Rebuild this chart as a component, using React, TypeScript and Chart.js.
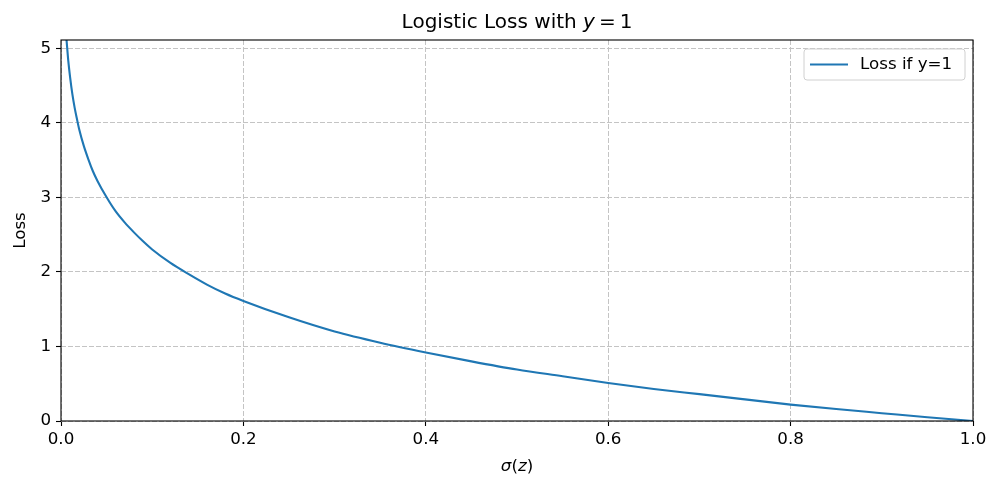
import React, { useEffect, useRef } from "react";
import { Chart, registerables } from "chart.js";

Chart.register(...registerables);

const SIGMA_Z = [0.006, 0.008, 0.01, 0.0125, 0.015, 0.0175, 0.02, 0.025, 0.03, 0.035, 0.04, 0.05, 0.06, 0.07, 0.08, 0.09, 0.1, 0.12, 0.14, 0.16, 0.18, 0.2, 0.25, 0.3, 0.35, 0.4, 0.45, 0.5, 0.55, 0.6, 0.65, 0.7, 0.75, 0.8, 0.85, 0.9, 0.95, 1.0];
const LOSS = [5.12, 4.83, 4.61, 4.38, 4.2, 4.05, 3.91, 3.69, 3.51, 3.35, 3.22, 3.0, 2.81, 2.66, 2.53, 2.41, 2.3, 2.12, 1.97, 1.83, 1.71, 1.61, 1.39, 1.2, 1.05, 0.92, 0.8, 0.69, 0.6, 0.51, 0.43, 0.36, 0.29, 0.22, 0.16, 0.105, 0.05, 0.0];
const X_TICKS = [0, 0.2, 0.4, 0.6, 0.8, 1.0];
const Y_TICKS = [0, 1, 2, 3, 4, 5];
const SERIES_LABEL = "Loss if y=1";
const Y_LABEL = "Loss";

const FONT = "'DejaVu Sans', sans-serif";
const FS = 16.7;

function drawMixed(ctx: CanvasRenderingContext2D, parts: [string, boolean][], cx: number, cy: number, size: number) {
  const fonts = parts.map(([, it]) => `${it ? "italic " : ""}${size}px ${FONT}`);
  let total = 0;
  const widths = parts.map(([t], i) => {
    ctx.font = fonts[i];
    const w = ctx.measureText(t).width;
    total += w;
    return w;
  });
  let x = cx - total / 2;
  ctx.textAlign = "left";
  ctx.textBaseline = "middle";
  parts.forEach(([t], i) => {
    ctx.font = fonts[i];
    ctx.fillText(t, x, cy);
    x += widths[i];
  });
}

const decor = {
  id: "decor",
  afterDraw(chart: any) {
    const ctx: CanvasRenderingContext2D = chart.ctx;
    const a = chart.chartArea;
    ctx.save();
    // frame
    ctx.strokeStyle = "#000";
    ctx.lineWidth = 1.1;
    ctx.strokeRect(a.left, a.top, a.right - a.left, a.bottom - a.top);
    ctx.fillStyle = "#000";
    const cx = (a.left + a.right) / 2;
    // title
    drawMixed(ctx, [["Logistic Loss with ", false], ["y", true], ["\u2009=\u20091", false]], cx, 23, 20);
    // x label
    drawMixed(ctx, [["σ", true], ["(", false], ["z", true], [")", false]], cx, 467, FS);
    // y label
    ctx.save();
    ctx.translate(21, (a.top + a.bottom) / 2);
    ctx.rotate(-Math.PI / 2);
    ctx.font = `${FS}px ${FONT}`;
    ctx.textAlign = "center";
    ctx.textBaseline = "middle";
    ctx.fillText(Y_LABEL, 0, 0);
    ctx.restore();
    // legend
    const lx = 804, ly = 49, lw = 161, lh = 31;
    ctx.beginPath();
    ctx.roundRect(lx, ly, lw, lh, 3);
    ctx.fillStyle = "rgba(255,255,255,0.8)";
    ctx.fill();
    ctx.strokeStyle = "#d0d0d0";
    ctx.lineWidth = 1;
    ctx.stroke();
    ctx.beginPath();
    ctx.moveTo(810, 64.5);
    ctx.lineTo(848, 64.5);
    ctx.strokeStyle = "#1f77b4";
    ctx.lineWidth = 2.1;
    ctx.stroke();
    ctx.fillStyle = "#000";
    ctx.font = `${FS}px ${FONT}`;
    ctx.textAlign = "left";
    ctx.textBaseline = "middle";
    ctx.fillText(SERIES_LABEL, 860, 65);
    ctx.restore();
  },
};

const gridOpts = {
  color: "#c4c4c4",
  lineWidth: 1,
  tickColor: "#000",
  tickLength: 5,
  tickWidth: 1.1,
  tickBorderDash: [],
} as any;

export default function App() {
  const ref = useRef<HTMLCanvasElement>(null);
  useEffect(() => {
    document.body.style.margin = "0";
    const chart = new Chart(ref.current!, {
      type: "line",
      data: {
        datasets: [
          {
            label: SERIES_LABEL,
            data: SIGMA_Z.map((x, i) => ({ x, y: LOSS[i] })),
            borderColor: "#1f77b4",
            borderWidth: 2.1,
            pointRadius: 0,
            fill: false,
            cubicInterpolationMode: "monotone",
          },
        ],
      },
      options: {
        animation: false,
        responsive: false,
        devicePixelRatio: 1,
        layout: { padding: { left: 0, right: 27, top: 40, bottom: 0 } },
        plugins: {
          legend: { display: false },
          title: { display: false },
          tooltip: { enabled: false },
        },
        scales: {
          x: {
            type: "linear",
            min: 0,
            max: 1,
            afterFit: (s: any) => { s.height = 68; },
            afterBuildTicks: (s: any) => { s.ticks = X_TICKS.map((v) => ({ value: v })); },
            ticks: {
              color: "#000",
              font: { family: FONT, size: FS },
              padding: 4,
              maxRotation: 0,
              callback: (v: any) => Number(v).toFixed(1),
            },
            grid: gridOpts,
            border: { display: false, dash: [5, 2] },
          },
          y: {
            type: "linear",
            min: 0,
            max: 5.11,
            afterFit: (s: any) => { s.width = 61; },
            afterBuildTicks: (s: any) => { s.ticks = Y_TICKS.map((v) => ({ value: v })); },
            ticks: {
              color: "#000",
              font: { family: FONT, size: FS },
              padding: 5,
              callback: (v: any) => String(v),
            },
            grid: gridOpts,
            border: { display: false, dash: [5, 2] },
          },
        },
      },
      plugins: [decor],
    } as any);
    return () => chart.destroy();
  }, []);
  return (
    <div style={{ position: "absolute", left: 0, top: 0, width: 1000, height: 489, background: "#fff" }}>
      <canvas ref={ref} width={1000} height={489} style={{ width: 1000, height: 489 }} />
    </div>
  );
}
